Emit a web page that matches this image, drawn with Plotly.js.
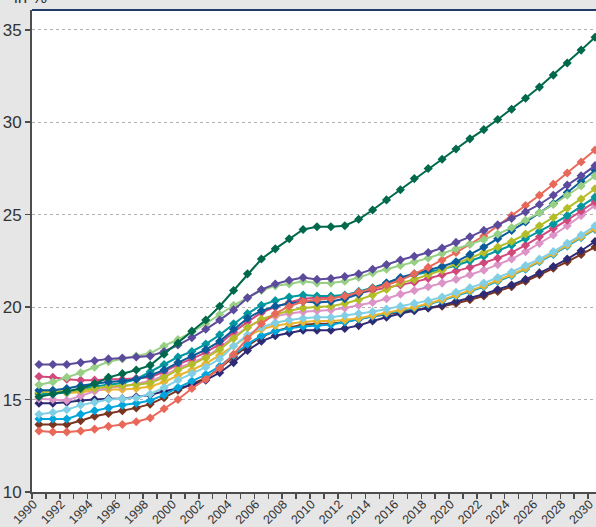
<!DOCTYPE html>
<html>
<head>
<meta charset="utf-8">
<script src="https://cdn.plot.ly/plotly-3.0.1.min.js"></script>
<style>
html,body{margin:0;padding:0;background:#e6e6e6;overflow:hidden;}
#chart{width:596px;height:527px;}
</style>
</head>
<body>
<div id="chart"></div>
<script>
const years = [1990,1991,1992,1993,1994,1995,1996,1997,1998,1999,2000,2001,2002,2003,2004,2005,2006,2007,2008,2009,2010,2011,2012,2013,2014,2015,2016,2017,2018,2019,2020,2021,2022,2023,2024,2025,2026,2027,2028,2029,2030];
const tickLabels = ['1990','1992','1994','1996','1998','2000','2002','2004','2006','2008','2010','2012','2014','2016','2018','2020','2022','2024','2026','2028','2030'];
const tickYears = [1990,1992,1994,1996,1998,2000,2002,2004,2006,2008,2010,2012,2014,2016,2018,2020,2022,2024,2026,2028,2030];

const darkGreen = [15.15,15.3,15.45,15.6,15.85,16.2,16.4,16.6,16.85,17.45, 18.05,18.7,19.3,20.05,20.9,21.8,22.6,23.15,23.7,24.2, 24.35,24.35,24.4,24.75,25.25,25.8,26.35,26.95,27.5,28.0, 28.55,29.1,29.6,30.15,30.7,31.3,31.9,32.55,33.2,33.9, 34.6];
const purple = [16.9,16.9,16.9,17.0,17.1,17.2,17.25,17.3,17.35,17.6, 17.95,18.35,18.8,19.3,19.85,20.5,20.95,21.25,21.45,21.6, 21.5,21.55,21.65,21.8,22.05,22.3,22.55,22.75,22.95,23.2, 23.5,23.8,24.15,24.45,24.8,25.15,25.55,26.05,26.6,27.1, 27.65];
const lightGreen = [15.8,15.95,16.2,16.45,16.75,17.05,17.2,17.35,17.5,17.9, 18.25,18.65,19.1,19.6,20.1,20.5,20.9,21.15,21.25,21.4, 21.3,21.3,21.4,21.6,21.85,22.05,22.25,22.45,22.65,22.9, 23.15,23.4,23.65,23.95,24.3,24.7,25.1,25.55,26.05,26.55, 27.1];
const salmon = [13.3,13.25,13.25,13.3,13.4,13.55,13.65,13.8,14.0,14.5, 15.0,15.6,16.1,16.7,17.45,18.3,19.1,19.65,20.05,20.3, 20.4,20.45,20.6,20.8,21.0,21.2,21.45,21.8,22.15,22.55, 22.95,23.4,23.85,24.4,24.95,25.5,26.05,26.65,27.25,27.85, 28.5];
const darkBlue = [15.5,15.5,15.6,15.75,15.85,15.95,16.0,16.1,16.3,16.6, 17.0,17.35,17.7,18.15,18.8,19.4,19.8,20.05,20.2,20.3, 20.25,20.3,20.45,20.7,21.0,21.3,21.6,21.8,22.0,22.2, 22.45,22.85,23.25,23.7,24.15,24.6,25.1,25.6,26.2,26.8, 27.4];
const olive = [15.4,15.45,15.45,15.5,15.6,15.7,15.75,15.8,15.9,16.2, 16.6,16.9,17.25,17.7,18.3,18.9,19.35,19.6,19.8,19.95, 20.0,20.05,20.2,20.4,20.65,20.95,21.3,21.5,21.75,22.0, 22.35,22.65,22.95,23.25,23.55,23.95,24.4,24.85,25.35,25.85, 26.4];
const teal = [15.3,15.3,15.4,15.55,15.7,15.8,15.9,16.1,16.5,16.9, 17.3,17.6,18.0,18.5,19.1,19.65,20.1,20.35,20.55,20.65, 20.6,20.6,20.65,20.85,21.05,21.3,21.55,21.75,21.9,22.05, 22.25,22.5,22.75,23.05,23.35,23.7,24.1,24.5,24.95,25.45, 25.95];
const pinkRed = [16.25,16.2,16.1,16.05,16.05,16.1,16.1,16.15,16.2,16.5, 16.9,17.2,17.55,18.0,18.65,19.2,19.7,20.0,20.25,20.45, 20.5,20.5,20.6,20.75,20.9,21.05,21.2,21.35,21.55,21.75, 21.95,22.15,22.4,22.65,22.95,23.35,23.8,24.25,24.7,25.2, 25.7];
const lightPink = [15.05,15.0,14.95,15.2,15.45,15.65,15.7,15.85,16.0,16.3, 16.7,17.0,17.3,17.8,18.4,18.9,19.3,19.5,19.65,19.75, 19.8,19.85,19.95,20.1,20.25,20.45,20.7,20.9,21.1,21.3, 21.5,21.75,22.0,22.3,22.6,23.0,23.45,23.9,24.4,24.95, 25.5];
const lightCyan = [14.2,14.3,14.45,14.7,14.85,15.0,15.05,15.1,15.3,15.65, 16.05,16.4,16.75,17.2,17.9,18.5,18.9,19.15,19.3,19.4, 19.45,19.45,19.55,19.65,19.75,19.9,20.05,20.2,20.35,20.55, 20.8,21.05,21.3,21.6,21.9,22.25,22.6,23.0,23.45,23.9, 24.4];
const blue = [13.95,13.95,13.95,14.2,14.4,14.55,14.7,14.8,14.95,15.25, 15.65,16.0,16.35,16.8,17.4,18.0,18.45,18.7,18.85,18.95, 19.0,19.05,19.2,19.35,19.5,19.65,19.8,19.95,20.15,20.35, 20.6,20.85,21.1,21.4,21.7,22.05,22.45,22.85,23.3,23.75, 24.2];
const yellow = [15.3,15.35,15.35,15.4,15.5,15.55,15.55,15.6,15.7,15.95, 16.3,16.6,16.95,17.4,17.9,18.4,18.8,19.0,19.1,19.2, 19.25,19.25,19.3,19.4,19.55,19.7,19.85,20.0,20.2,20.4, 20.65,20.9,21.15,21.45,21.75,22.1,22.5,22.9,23.35,23.8, 24.25];
const navy = [14.8,14.8,14.85,14.95,15.0,15.05,15.05,15.15,15.25,15.45, 15.6,15.8,16.05,16.45,17.0,17.65,18.15,18.45,18.6,18.75, 18.75,18.75,18.85,19.0,19.25,19.45,19.65,19.8,19.95,20.1, 20.3,20.5,20.7,20.95,21.2,21.5,21.85,22.2,22.6,23.05, 23.55];
const brown = [13.65,13.65,13.65,13.85,14.1,14.25,14.4,14.55,14.75,15.1, 15.5,15.85,16.15,16.7,17.3,17.9,18.4,18.7,18.9,19.05, 19.1,19.1,19.2,19.35,19.5,19.6,19.75,19.85,19.95,20.05, 20.2,20.4,20.6,20.85,21.1,21.4,21.75,22.1,22.45,22.85, 23.25];

const seriesList = [
  [brown, '#7a3521'],
  [navy, '#2e2b74'],
  [blue, '#00a5dc'],
  [yellow, '#e9b531'],
  [lightCyan, '#80cfe4'],
  [lightPink, '#dc93c6'],
  [pinkRed, '#d1487b'],
  [teal, '#00979f'],
  [olive, '#b3bd28'],
  [darkBlue, '#0b5a9c'],
  [salmon, '#e8695a'],
  [lightGreen, '#97cf84'],
  [purple, '#5c4b9c'],
  [darkGreen, '#00694c']
];

const traces = seriesList.map(([vals, col]) => ({
  x: years, y: vals, type: 'scatter', mode: 'lines+markers',
  line: {color: col, width: 2},
  marker: {symbol: 'diamond', size: 7, color: col},
  cliponaxis: false, hoverinfo: 'skip'
}));

// labels sit slightly left of the category centre, as in the reference
const labelOffset = 0.4;
const axisColor = '#4d4d4d';
const layout = {
  width: 596, height: 527,
  margin: {l: 32, r: 0, t: 10, b: 35},
  paper_bgcolor: '#e6e6e6',
  plot_bgcolor: '#ffffff',
  showlegend: false,
  font: {family: 'Liberation Sans, Arial, sans-serif', color: '#333333'},
  xaxis: {
    range: [1989.5, 2030.07],
    tickmode: 'array',
    tickvals: tickYears.map(v => v - labelOffset),
    ticktext: tickLabels,
    ticks: '', tickangle: -45,
    tickfont: {size: 12.5, color: '#333333'},
    ticklabelstandoff: -2,
    ticklabeloverflow: 'allow',
    showgrid: false, zeroline: false,
    showline: true, linecolor: axisColor, linewidth: 2,
    minor: {tickmode: 'linear', tick0: 1989.5, dtick: 1, ticks: 'outside', ticklen: 5, tickwidth: 1.5, tickcolor: axisColor, showgrid: false}
  },
  yaxis: {
    range: [10, 36.07],
    tickmode: 'linear', tick0: 10, dtick: 5,
    ticks: 'outside', ticklen: 5, tickwidth: 1.5, tickcolor: axisColor,
    tickfont: {size: 17, color: '#333333'},
    showgrid: true, gridcolor: '#b0b0b0', griddash: '3px,3px', gridwidth: 1,
    zeroline: false,
    showline: true, linecolor: axisColor, linewidth: 2
  },
  shapes: [{type: 'line', xref: 'paper', yref: 'paper', x0: 0, x1: 1, y0: 1, y1: 1, line: {color: '#1f3b6b', width: 2}}],
  annotations: [{
    text: 'in %', xref: 'paper', yref: 'paper', x: -0.035, y: 1,
    xanchor: 'left', yanchor: 'bottom', yshift: 1, showarrow: false,
    font: {size: 17, color: '#333333'}
  }]
};

Plotly.newPlot('chart', traces, layout, {staticPlot: true, displayModeBar: false});
</script>
</body>
</html>
